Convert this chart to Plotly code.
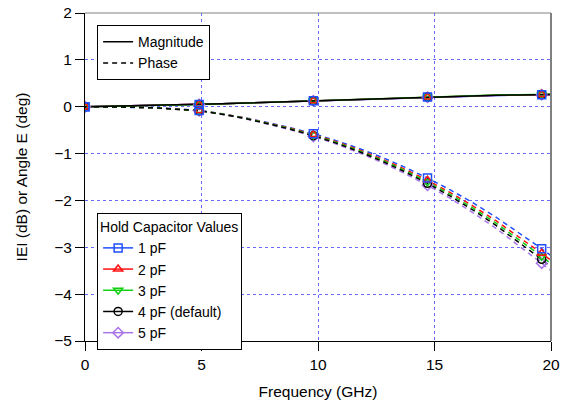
import numpy as np
import plotly.graph_objects as go

# Frequency grid (GHz): markers every 5th point
freq = [0.0, 0.98, 1.96, 2.94, 3.92, 4.9, 5.88, 6.86, 7.84, 8.82, 9.8,
        10.78, 11.76, 12.74, 13.72, 14.7, 15.68, 16.66, 17.64, 18.62, 19.6, 20.0]

labels = ["1 pF", "2 pF", "3 pF", "4 pF (default)", "5 pF"]

mag_1pF = [0, 0.008, 0.016, 0.025, 0.035, 0.046, 0.062, 0.078, 0.094, 0.11, 0.126,
           0.142, 0.158, 0.174, 0.19, 0.205, 0.218, 0.23, 0.24, 0.249, 0.257, 0.259]
mag_2pF = [0, 0.008, 0.016, 0.025, 0.035, 0.046, 0.062, 0.078, 0.094, 0.11, 0.127,
           0.143, 0.16, 0.176, 0.192, 0.207, 0.22, 0.232, 0.243, 0.252, 0.26, 0.262]
mag_3pF = [0, 0.008, 0.017, 0.026, 0.036, 0.048, 0.064, 0.08, 0.097, 0.113, 0.13,
           0.147, 0.164, 0.18, 0.196, 0.211, 0.225, 0.237, 0.248, 0.257, 0.265, 0.267]
mag_4pF = [0, 0.008, 0.016, 0.025, 0.035, 0.046, 0.062, 0.078, 0.094, 0.11, 0.127,
           0.143, 0.16, 0.176, 0.192, 0.207, 0.22, 0.232, 0.243, 0.252, 0.26, 0.262]
mag_5pF = [0, 0.008, 0.016, 0.025, 0.035, 0.046, 0.061, 0.077, 0.093, 0.109, 0.125,
           0.141, 0.157, 0.173, 0.189, 0.204, 0.217, 0.229, 0.239, 0.248, 0.256, 0.258]

ph_1pF = [0, -0.002, -0.009, -0.022, -0.045, -0.08, -0.15, -0.235, -0.337, -0.447, -0.575,
          -0.723, -0.891, -1.079, -1.29, -1.521, -1.776, -2.054, -2.357, -2.685, -3.03, -3.18]
ph_2pF = [0, -0.002, -0.01, -0.023, -0.046, -0.082, -0.154, -0.24, -0.348, -0.461, -0.593,
          -0.746, -0.92, -1.114, -1.332, -1.571, -1.834, -2.121, -2.433, -2.772, -3.128, -3.28]
ph_3pF = [0, -0.002, -0.01, -0.024, -0.047, -0.083, -0.157, -0.245, -0.355, -0.47, -0.606,
          -0.761, -0.939, -1.137, -1.359, -1.603, -1.872, -2.165, -2.483, -2.829, -3.193, -3.35]
ph_4pF = [0, -0.002, -0.01, -0.024, -0.048, -0.085, -0.16, -0.25, -0.362, -0.48, -0.618,
          -0.777, -0.958, -1.16, -1.387, -1.636, -1.91, -2.209, -2.534, -2.887, -3.258, -3.42]
ph_5pF = [0, -0.002, -0.01, -0.025, -0.049, -0.087, -0.164, -0.256, -0.371, -0.492, -0.633,
          -0.796, -0.982, -1.189, -1.422, -1.677, -1.958, -2.264, -2.597, -2.959, -3.339, -3.5]

x_ticks = [0, 5, 10, 15, 20]
y_ticks = [2, 1, 0, -1, -2, -3, -4, -5]

colors = ["#1f4fff", "#ff1010", "#10d010", "#000000", "#a874e8"]
symbols = ["square-open", "triangle-up-open", "triangle-down-open", "circle-open", "diamond-open"]
mags = [mag_1pF, mag_2pF, mag_3pF, mag_4pF, mag_5pF]
phases = [ph_1pF, ph_2pF, ph_3pF, ph_4pF, ph_5pF]

DASH = "5px,4px"
fig = go.Figure()
line_order = [4, 0, 1, 2, 3]
mk_idx = [0, 5, 10, 15, 20]
for i in line_order:
    c = colors[i]
    fig.add_trace(go.Scatter(x=freq, y=mags[i], mode="lines", line=dict(color=c, width=1.5),
                             showlegend=False, hoverinfo="skip"))
    fig.add_trace(go.Scatter(x=freq, y=phases[i], mode="lines",
                             line=dict(color=c, width=1.5, dash=DASH),
                             showlegend=False, hoverinfo="skip"))
marker_order = [4, 3, 2, 1, 0]
for i in marker_order:
    c = colors[i]
    for arr in (mags[i], phases[i]):
        fig.add_trace(go.Scatter(x=[freq[k] for k in mk_idx], y=[arr[k] for k in mk_idx],
                                 mode="markers",
                                 marker=dict(symbol=symbols[i], size=8, color=c,
                                             line=dict(color=c, width=1.5)),
                                 showlegend=False, hoverinfo="skip"))

# legend 1: line styles
fig.add_trace(go.Scatter(x=[None], y=[None], mode="lines", name="Magnitude",
                         line=dict(color="black", width=1.5), legend="legend"))
fig.add_trace(go.Scatter(x=[None], y=[None], mode="lines", name="Phase",
                         line=dict(color="black", width=1.5, dash=DASH), legend="legend"))
# legend 2: capacitor values
for i in range(5):
    fig.add_trace(go.Scatter(x=[None], y=[None], mode="lines+markers", name=labels[i],
                             line=dict(color=colors[i], width=1.5),
                             marker=dict(symbol=symbols[i], size=8, color=colors[i],
                                         line=dict(color=colors[i], width=1.5)),
                             legend="legend2"))

font = dict(family="Liberation Sans, Arial, sans-serif", size=15.5, color="black")
lfont = dict(family="Liberation Sans, Arial, sans-serif", size=14, color="black")
grid = "rgb(105,105,255)"
fig.update_layout(
    width=562, height=404,
    margin=dict(l=85, r=11, t=13, b=63),
    paper_bgcolor="white", plot_bgcolor="white",
    font=font,
    xaxis=dict(range=[0, 20], tickvals=x_ticks, ticks="outside", ticklen=9, tickcolor="black",
               showline=True, linecolor="black", linewidth=1, mirror=False, automargin=False,
               showgrid=True, gridcolor=grid, griddash="dot", gridwidth=1,
               zeroline=False, title=dict(text="Frequency (GHz)", standoff=14, font=font)),
    yaxis=dict(range=[-5, 2], tickvals=y_ticks, ticks="outside", ticklen=9, tickcolor="black",
               showline=True, linecolor="black", linewidth=1, mirror=False, automargin=False,
               showgrid=True, gridcolor=grid, griddash="dot", gridwidth=1,
               zeroline=False, title=dict(text="IEI (dB) or Angle E (deg)", standoff=22, font=font)),
    legend=dict(x=0.026, y=0.963, xanchor="left", yanchor="top", bgcolor="white",
                bordercolor="black", borderwidth=1, itemwidth=30, tracegroupgap=0,
                font=lfont),
    legend2=dict(x=0.026, y=0.39, xanchor="left", yanchor="top", bgcolor="white",
                 bordercolor="black", borderwidth=1, itemwidth=30, tracegroupgap=0,
                 title=dict(text="Hold Capacitor Values", font=lfont), font=lfont),
    shapes=[
        dict(type="line", xref="paper", yref="paper", x0=1, x1=1, y0=0, y1=1,
             line=dict(color="gray", width=2)),
        dict(type="line", xref="paper", yref="paper", x0=0, x1=1, y0=1, y1=1,
             line=dict(color="gray", width=1)),
    ],
)

fig.write_html("out.html", config={"displayModeBar": False},
               post_script="document.body.style.margin='0px';")
